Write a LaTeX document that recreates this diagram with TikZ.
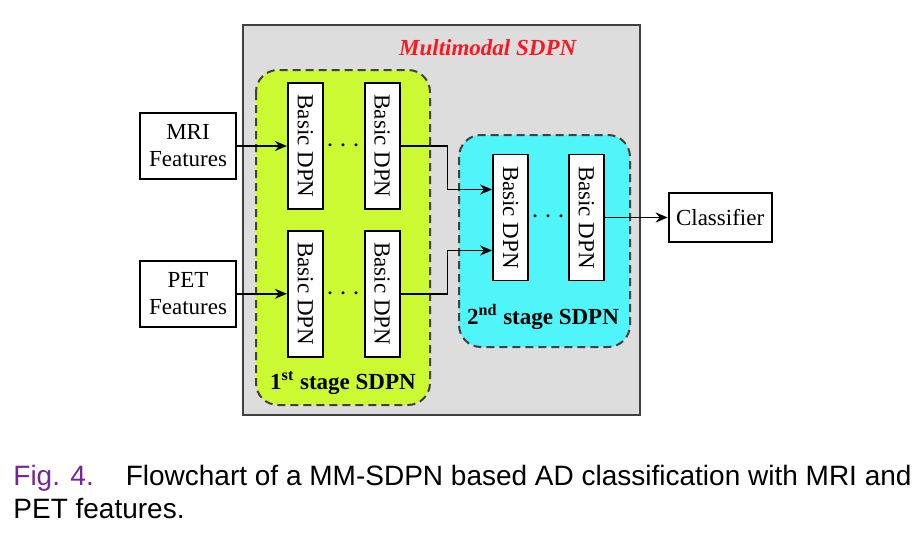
\documentclass[tikz,border=0pt]{standalone}
\usepackage{fontspec}
\usepackage{graphicx}
\setmainfont{Liberation Serif}
\newfontfamily\capfont{Liberation Sans}
\usetikzlibrary{positioning,arrows.meta}
\definecolor{outergray}{RGB}{221,221,221}
\definecolor{stagegreen}{RGB}{204,250,50}
\definecolor{stagecyan}{RGB}{80,245,250}
\definecolor{titlered}{RGB}{250,25,35}
\definecolor{figpurple}{RGB}{112,40,150}

\begin{document}
\begin{tikzpicture}[x=0.5pt, y=-0.5pt, font=\fontsize{11.5}{13.5}\selectfont,
    feat/.style={draw, line width=0.9pt, fill=white, minimum width=48pt, minimum height=33pt, align=center, inner sep=1pt},
    dpn/.style={draw, line width=0.9pt, fill=white, minimum width=17.5pt, minimum height=63pt, inner sep=0pt},
    flow/.style={-{Stealth[length=6pt,width=5pt]}, line width=0.85pt},
    stagebox/.style={draw=black!75, line width=1pt, dash pattern=on 4pt off 2.5pt, rounded corners=11pt}]

    \useasboundingbox (0,0) rectangle (922,546);

    \draw [line width=1.2pt, draw=black!75, fill=outergray] (243,25) rectangle (640,415); % multimodal box
    \draw [stagebox, fill=stagegreen] (256,70) rectangle (430,405); % 1st stage
    \draw [stagebox, fill=stagecyan] (459,135) rectangle (630,347); % 2nd stage

    \node [text=titlered] (ttl) at (488,48) {\textbf{\textit{Multimodal SDPN}}}; % title

    \node [feat] (mri) at (188,146) {MRI\\Features}; % MRI input
    \node [dpn, right=25pt of mri] (dpnA1) {\rotatebox{-90}{Basic DPN}}; % top first DPN
    \node [dpn, right=20pt of dpnA1] (dpnA2) {\rotatebox{-90}{Basic DPN}}; % top last DPN
    \node [dpn, below=10pt of dpnA1] (dpnB1) {\rotatebox{-90}{Basic DPN}}; % bottom first DPN
    \node [dpn, right=20pt of dpnB1] (dpnB2) {\rotatebox{-90}{Basic DPN}}; % bottom last DPN
    \node [feat, left=25pt of dpnB1] (pet) {PET\\Features}; % PET input

    \node [dpn] (dpnC1) at (510.5,217.5) {\rotatebox{-90}{Basic DPN}}; % 2nd stage first DPN
    \node [dpn, right=19.5pt of dpnC1] (dpnC2) {\rotatebox{-90}{Basic DPN}}; % 2nd stage last DPN
    \node [draw, line width=0.9pt, fill=white, minimum width=51.5pt, minimum height=24.5pt, right=31.5pt of dpnC2] (clf) {Classifier}; % output

    \path (dpnA1) -- (dpnA2) node [midway, font=\fontsize{15}{15}\selectfont] (dotsA) {$\cdots$}; % dots top
    \path (dpnB1) -- (dpnB2) node [midway, font=\fontsize{15}{15}\selectfont] (dotsB) {$\cdots$}; % dots bottom
    \path (dpnC1) -- (dpnC2) node [midway, font=\fontsize{15}{15}\selectfont] (dotsC) {$\cdots$}; % dots 2nd stage

    \node (lblA) at (343,383) {\textbf{1\textsuperscript{st} stage SDPN}}; % stage 1 label
    \node (lblB) at (543,317) {\textbf{2\textsuperscript{nd} stage SDPN}}; % stage 2 label

    \draw [flow] (mri) -- (dpnA1);
    \draw [flow] (pet) -- (dpnB1);
    \draw [flow] (dpnA2.east) -- ++(47,0) |- ([yshift=14pt]dpnC1.west);
    \draw [flow] (dpnB2.east) -- ++(47,0) |- ([yshift=-16.5pt]dpnC1.west);
    \draw [flow] (dpnC2) -- (clf);

    \node [anchor=base west, inner sep=0pt, font=\capfont\fontsize{14}{16.5}\selectfont] (capA) at (13,485) {{\color{figpurple}Fig. 4.}\hspace{16pt}Flowchart of a MM-SDPN based AD classification with MRI and}; % caption line 1
    \node [anchor=base west, inner sep=0pt, font=\capfont\fontsize{14}{16.5}\selectfont] (capB) at (13,518) {PET features.}; % caption line 2
\end{tikzpicture}
\end{document}
